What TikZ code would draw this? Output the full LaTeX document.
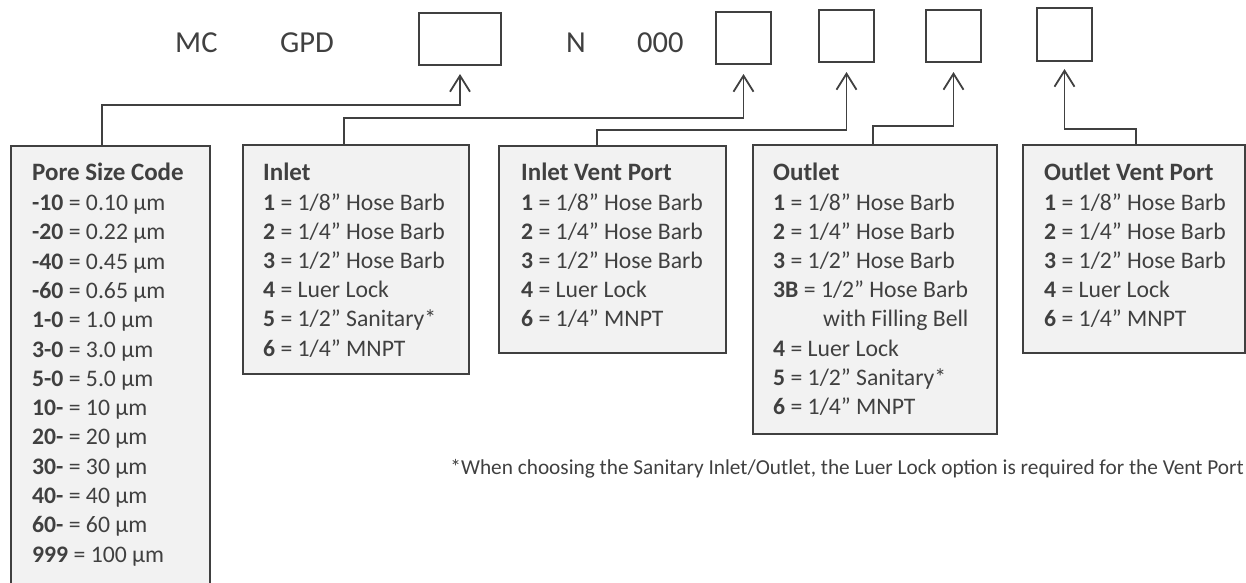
\documentclass[tikz,border=0pt]{standalone}
\usepackage{fontspec}
\setmainfont{Carlito}
\usetikzlibrary{arrows.meta,calc}
\definecolor{ink}{HTML}{404040}
\definecolor{boxfill}{HTML}{F2F2F2}
\tikzset{
  topbox/.style={draw=ink,line width=1.8pt,fill=white,rectangle,anchor=north west,inner sep=0pt,outer sep=0pt},
  listbox/.style={draw=ink,line width=1.8pt,fill=boxfill,rectangle,anchor=north west,inner sep=0pt,outer sep=0pt},
  conn/.style={draw=ink,line width=1.8pt,line join=miter,-{Straight Barb[length=16pt,width=20pt]}},
  code/.style={anchor=base west,inner sep=0pt,text=ink,font=\fontsize{30.5}{36}\selectfont},
  head/.style={anchor=base west,inner sep=0pt,text=ink,font=\fontsize{25}{30}\selectfont\bfseries},
  item/.style={anchor=base west,inner sep=0pt,text=ink,font=\fontsize{23.7}{28}\selectfont},
  note/.style={anchor=base east,inner sep=0pt,text=ink,font=\fontsize{21.3}{25}\selectfont}
}
\begin{document}
\begin{tikzpicture}[x=1pt,y=-1pt]
\useasboundingbox (0,0) rectangle (1246,582);
\clip (0,0) rectangle (1246,582);
% code line
\node[code] (mc) at (175,52) {MC};
\node[code] (gpd) at (280,52) {GPD};
\node[code] (n) at (566,52) {N};
\node[code] (zero) at (637,52) {000};
\node[topbox,minimum width=82pt,minimum height=52pt] (box1) at (419,13) {};
\node[topbox,minimum width=55pt,minimum height=52pt] (box2) at (716,12) {};
\node[topbox,minimum width=55pt,minimum height=52pt] (box3) at (819,10) {};
\node[topbox,minimum width=55pt,minimum height=52pt] (box4) at (926,10) {};
\node[topbox,minimum width=55pt,minimum height=53pt] (box5) at (1037,8) {};
% list boxes
\node[listbox,minimum width=199pt,minimum height=460pt] (pore) at (11,146) {};
\node[listbox,minimum width=226pt,minimum height=229pt] (inlet) at (243,145) {};
\node[listbox,minimum width=227pt,minimum height=207pt] (ivent) at (499,146) {};
\node[listbox,minimum width=244pt,minimum height=289pt] (outlet) at (753,145) {};
\node[listbox,minimum width=222pt,minimum height=208pt] (ovent) at (1023,145) {};
% connectors
\draw[conn] ([xshift=91pt]pore.north west) -- ++(0,-41) -| ([yshift=-9pt]box1.south);
\draw[conn] ([xshift=101pt]inlet.north west) -- ++(0,-27) -| ([yshift=-10pt]box2.south);
\draw[conn] ([xshift=98pt]ivent.north west) -- ++(0,-16) -| ([yshift=-10pt]box3.south);
\draw[conn] ([xshift=120pt]outlet.north west) -- ++(0,-19) -| ([yshift=-10pt]box4.south);
\draw[conn] ([xshift=113pt]ovent.north west) -- ++(0,-16) -| ([yshift=-8pt]box5.south);
% pore size list
\node[head] (ph) at (32,180) {Pore Size Code};
\foreach \t [count=\i] in {{\textbf{-10} = 0.10 µm},{\textbf{-20} = 0.22 µm},{\textbf{-40} = 0.45 µm},{\textbf{-60} = 0.65 µm},{\textbf{1-0} = 1.0 µm},{\textbf{3-0} = 3.0 µm},{\textbf{5-0} = 5.0 µm},{\textbf{10-} = 10 µm},{\textbf{20-} = 20 µm},{\textbf{30-} = 30 µm},{\textbf{40-} = 40 µm},{\textbf{60-} = 60 µm},{\textbf{999} = 100 µm}}
  \node[item] (p\i) at (32,{210.5+(\i-1)*29.3}) {\t};
% inlet
\node[head] (ih) at (263,180) {Inlet};
\foreach \t [count=\i] in {{\textbf{1} = 1/8” Hose Barb},{\textbf{2} = 1/4” Hose Barb},{\textbf{3} = 1/2” Hose Barb},{\textbf{4} = Luer Lock},{\textbf{5} = 1/2” Sanitary*},{\textbf{6} = 1/4” MNPT}}
  \node[item] (i\i) at (263,{210.5+(\i-1)*29.1}) {\t};
% inlet vent port
\node[head] (vh) at (521,180) {Inlet Vent Port};
\foreach \t [count=\i] in {{\textbf{1} = 1/8” Hose Barb},{\textbf{2} = 1/4” Hose Barb},{\textbf{3} = 1/2” Hose Barb},{\textbf{4} = Luer Lock},{\textbf{6} = 1/4” MNPT}}
  \node[item] (v\i) at (521,{210.5+(\i-1)*29.1}) {\t};
% outlet
\node[head] (oh) at (773,180) {Outlet};
\foreach \t [count=\i] in {{\textbf{1} = 1/8” Hose Barb},{\textbf{2} = 1/4” Hose Barb},{\textbf{3} = 1/2” Hose Barb},{\textbf{3B} = 1/2” Hose Barb},{\hspace*{50pt}with Filling Bell},{\textbf{4} = Luer Lock},{\textbf{5} = 1/2” Sanitary*},{\textbf{6} = 1/4” MNPT}}
  \node[item] (o\i) at (773,{210.5+(\i-1)*29.1}) {\t};
% outlet vent port
\node[head] (wh) at (1044,180) {Outlet Vent Port};
\foreach \t [count=\i] in {{\textbf{1} = 1/8” Hose Barb},{\textbf{2} = 1/4” Hose Barb},{\textbf{3} = 1/2” Hose Barb},{\textbf{4} = Luer Lock},{\textbf{6} = 1/4” MNPT}}
  \node[item] (w\i) at (1044,{210.5+(\i-1)*29.1}) {\t};
% footnote
\node[note] (fn) at (1244,474) {*When choosing the Sanitary Inlet/Outlet, the Luer Lock option is required for the Vent Port};
\end{tikzpicture}
\end{document}
